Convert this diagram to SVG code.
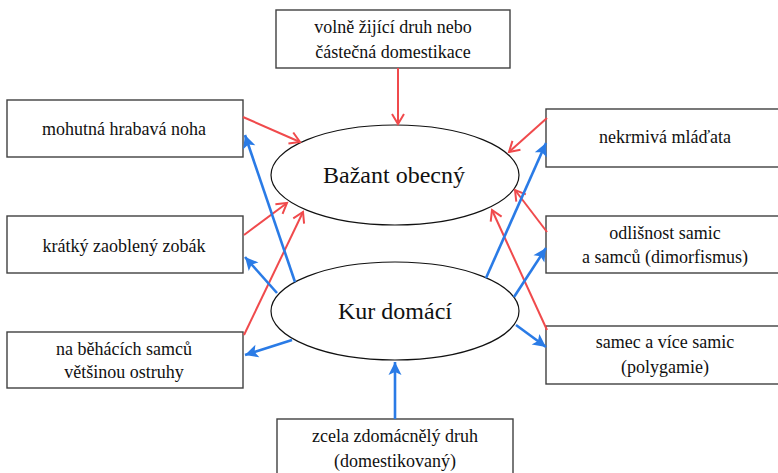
<svg xmlns="http://www.w3.org/2000/svg" width="778" height="473" viewBox="0 0 778 473">
<style>
.box{fill:#fff;stroke:#404040;stroke-width:1.4}
.ell{fill:#fff;stroke:#111;stroke-width:1.2}
.red{stroke:#F04A4C;stroke-width:2;fill:none;marker-end:url(#ra)}
.blue{stroke:#2A7BE6;stroke-width:2.6;fill:none;marker-end:url(#ba)}
</style>
<defs>
<marker id="ra" markerUnits="userSpaceOnUse" markerWidth="16" markerHeight="16" viewBox="-12 -8 14 16" refX="0" refY="0" orient="auto">
<path d="M-10,-6 L0,0 L-10,6" fill="none" stroke="#F04A4C" stroke-width="2"/>
</marker>
<marker id="ba" markerUnits="userSpaceOnUse" markerWidth="16" markerHeight="16" viewBox="-14 -8 16 16" refX="0" refY="0" orient="auto">
<path d="M-13,-6.5 L0,0 L-13,6.5 L-10,0 z" fill="#2A7BE6"/>
</marker>
</defs>
<g id="n-top"><rect class="box" x="276" y="10" width="234" height="58"/><text font-family="Liberation Serif" font-size="18" text-anchor="middle" fill="#111" x="393" y="33">volně žijící druh nebo</text><text font-family="Liberation Serif" font-size="18" text-anchor="middle" fill="#111" x="393" y="58">částečná domestikace</text></g>
<g id="n-bottom"><rect class="box" x="277" y="419" width="236" height="62"/><text font-family="Liberation Serif" font-size="18" text-anchor="middle" fill="#111" x="395" y="442">zcela zdomácnělý druh</text><text font-family="Liberation Serif" font-size="18" text-anchor="middle" fill="#111" x="395" y="467">(domestikovaný)</text></g>
<g id="n-l1"><rect class="box" x="7" y="100" width="236" height="57"/><text font-family="Liberation Serif" font-size="18" text-anchor="middle" fill="#111" x="124" y="135">mohutná hrabavá noha</text></g>
<g id="n-l2"><rect class="box" x="7" y="216" width="236" height="57"/><text font-family="Liberation Serif" font-size="18" text-anchor="middle" fill="#111" x="124" y="252">krátký zaoblený zobák</text></g>
<g id="n-l3"><rect class="box" x="7" y="332" width="236" height="56"/><text font-family="Liberation Serif" font-size="18" text-anchor="middle" fill="#111" x="124" y="355">na běhácích samců</text><text font-family="Liberation Serif" font-size="18" text-anchor="middle" fill="#111" x="124" y="378">většinou ostruhy</text></g>
<g id="n-r1"><rect class="box" x="546" y="109" width="240" height="58"/><text font-family="Liberation Serif" font-size="18" text-anchor="middle" fill="#111" x="665" y="143">nekrmivá mláďata</text></g>
<g id="n-r2"><rect class="box" x="546" y="216" width="240" height="57"/><text font-family="Liberation Serif" font-size="18" text-anchor="middle" fill="#111" x="665" y="239">odlišnost samic</text><text font-family="Liberation Serif" font-size="18" text-anchor="middle" fill="#111" x="665" y="263">a samců (dimorfismus)</text></g>
<g id="n-r3"><rect class="box" x="546" y="326" width="240" height="58"/><text font-family="Liberation Serif" font-size="18" text-anchor="middle" fill="#111" x="665" y="348">samec a více samic</text><text font-family="Liberation Serif" font-size="18" text-anchor="middle" fill="#111" x="665" y="373">(polygamie)</text></g>
<g id="n-bazant"><ellipse class="ell" cx="395" cy="175" rx="124" ry="50"/><text font-family="Liberation Serif" font-size="24" text-anchor="middle" fill="#111" x="394" y="183">Bažant obecný</text></g>
<g id="n-kur"><ellipse class="ell" cx="395" cy="311" rx="124" ry="49"/><text font-family="Liberation Serif" font-size="24" text-anchor="middle" fill="#111" x="395" y="319">Kur domácí</text></g>
<g id="connectors">
<line class="red" x1="398" y1="68" x2="398" y2="124"/>
<line class="red" x1="243" y1="117" x2="300" y2="142"/>
<line class="red" x1="244" y1="235" x2="287" y2="203"/>
<line class="red" x1="244" y1="335" x2="303" y2="212"/>
<line class="red" x1="547" y1="118" x2="509" y2="152"/>
<line class="red" x1="547" y1="232" x2="515" y2="190"/>
<line class="red" x1="547" y1="330" x2="492" y2="210"/>
<line class="blue" x1="295" y1="282" x2="245" y2="135"/>
<line class="blue" x1="277" y1="293" x2="245" y2="257"/>
<line class="blue" x1="292" y1="340" x2="245" y2="355"/>
<line class="blue" x1="486" y1="278" x2="546" y2="143"/>
<line class="blue" x1="514" y1="297" x2="546" y2="248"/>
<line class="blue" x1="516" y1="325" x2="546" y2="347"/>
<line class="blue" x1="395" y1="419" x2="395" y2="362"/>
</g>
</svg>
